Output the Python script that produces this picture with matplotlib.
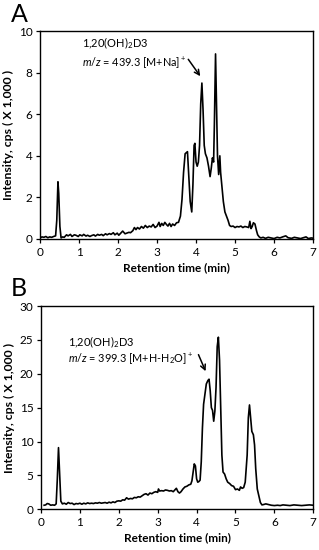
import matplotlib.pyplot as plt

plt.rcParams['font.family'] = ['Lato', 'DejaVu Sans']
plt.rcParams['mathtext.fontset'] = 'custom'
plt.rcParams['mathtext.rm'] = 'Lato'
plt.rcParams['mathtext.it'] = 'Lato:italic'

# panel A: m/z 439.3 trace (intensity in thousands of cps)
time_a = [0.00, 0.05, 0.10, 0.15, 0.20, 0.25, 0.30, 0.35, 0.40, 0.43, 0.46, 0.48, 0.51, 0.54,
          0.58, 0.62, 0.68, 0.72, 0.78, 0.82, 0.88, 0.92, 0.98, 1.02, 1.08, 1.12, 1.18, 1.22,
          1.28, 1.32, 1.38, 1.42, 1.48, 1.52, 1.58, 1.62, 1.68, 1.72, 1.78, 1.82, 1.88, 1.92,
          1.98, 2.02, 2.08, 2.12, 2.18, 2.22, 2.28, 2.32, 2.38, 2.42, 2.46, 2.50, 2.55, 2.60,
          2.65, 2.70, 2.75, 2.80, 2.85, 2.90, 2.95, 3.00, 3.05, 3.08, 3.12, 3.16, 3.20, 3.24,
          3.28, 3.32, 3.36, 3.40, 3.45, 3.50, 3.55, 3.60, 3.64, 3.68, 3.72, 3.75, 3.78, 3.81,
          3.85, 3.89, 3.92, 3.95, 3.97, 4.00, 4.03, 4.06, 4.09, 4.12, 4.15, 4.18, 4.21, 4.24,
          4.28, 4.32, 4.36, 4.39, 4.42, 4.45, 4.47, 4.50, 4.53, 4.55, 4.58, 4.61, 4.63, 4.66,
          4.70, 4.74, 4.78, 4.82, 4.86, 4.90, 4.95, 5.00, 5.05, 5.10, 5.15, 5.20, 5.25, 5.30,
          5.35, 5.38, 5.41, 5.44, 5.47, 5.51, 5.55, 5.58, 5.62, 5.66, 5.72, 5.78, 5.85, 5.92,
          6.00, 6.08, 6.15, 6.22, 6.30, 6.36, 6.45, 6.52, 6.60, 6.68, 6.75, 6.82, 6.88, 6.95,
          7.00]
int_a = [0.05, 0.10, 0.08, 0.12, 0.06, 0.10, 0.08, 0.12, 0.15, 0.90, 2.75, 2.20, 0.60, 0.05,
         0.10, 0.08, 0.20, 0.15, 0.22, 0.12, 0.20, 0.18, 0.12, 0.20, 0.15, 0.22, 0.14, 0.18,
         0.12, 0.16, 0.20, 0.14, 0.22, 0.18, 0.22, 0.16, 0.25, 0.20, 0.26, 0.22, 0.30, 0.20,
         0.28, 0.18, 0.30, 0.38, 0.25, 0.28, 0.32, 0.30, 0.40, 0.55, 0.45, 0.55, 0.48, 0.60,
         0.52, 0.65, 0.55, 0.62, 0.58, 0.70, 0.55, 0.62, 0.80, 0.60, 0.75, 0.65, 0.80, 0.70,
         0.62, 0.75, 0.60, 0.72, 0.65, 0.78, 0.80, 1.10, 1.90, 3.20, 4.10, 4.15, 4.20, 3.20,
         1.80, 1.30, 2.60, 4.50, 4.60, 3.70, 3.50, 3.70, 4.50, 6.50, 7.50, 6.20, 4.50, 4.10,
         3.90, 3.50, 3.00, 3.40, 3.90, 3.70, 5.50, 8.90, 6.00, 4.00, 3.10, 4.00, 3.20, 2.60,
         1.80, 1.30, 1.10, 0.90, 0.65, 0.60, 0.62, 0.55, 0.60, 0.58, 0.62, 0.55, 0.60, 0.58,
         0.55, 0.85, 0.50, 0.60, 0.78, 0.72, 0.40, 0.20, 0.10, 0.05, 0.08, 0.03, 0.08, 0.05,
         0.02, 0.08, 0.05, 0.10, 0.15, 0.06, 0.03, 0.08, 0.05, 0.02, 0.06, 0.10, 0.02, 0.05,
         0.04]

# panel B: m/z 399.3 trace
time_b = [0.08, 0.12, 0.16, 0.20, 0.25, 0.30, 0.35, 0.39, 0.42, 0.45, 0.48, 0.51, 0.55, 0.60,
          0.65, 0.70, 0.75, 0.80, 0.85, 0.90, 0.95, 1.00, 1.05, 1.10, 1.15, 1.20, 1.25, 1.30,
          1.35, 1.40, 1.45, 1.50, 1.55, 1.60, 1.65, 1.70, 1.75, 1.80, 1.85, 1.90, 1.95, 2.00,
          2.05, 2.10, 2.15, 2.20, 2.25, 2.30, 2.35, 2.40, 2.45, 2.50, 2.55, 2.60, 2.65, 2.70,
          2.75, 2.80, 2.85, 2.90, 2.95, 3.00, 3.02, 3.05, 3.10, 3.15, 3.20, 3.25, 3.30, 3.35,
          3.40, 3.45, 3.48, 3.52, 3.56, 3.60, 3.65, 3.70, 3.75, 3.80, 3.85, 3.88, 3.91, 3.94,
          3.97, 4.00, 4.03, 4.06, 4.09, 4.12, 4.15, 4.18, 4.21, 4.25, 4.29, 4.32, 4.35, 4.38,
          4.41, 4.44, 4.47, 4.50, 4.53, 4.56, 4.59, 4.62, 4.65, 4.68, 4.72, 4.76, 4.80, 4.85,
          4.90, 4.95, 5.00, 5.05, 5.10, 5.13, 5.17, 5.21, 5.25, 5.30, 5.33, 5.36, 5.39, 5.42,
          5.46, 5.49, 5.52, 5.56, 5.60, 5.64, 5.68, 5.72, 5.78, 5.85, 5.92, 6.00, 6.08, 6.15,
          6.22, 6.30, 6.40, 6.50, 6.60, 6.70, 6.80, 6.90, 7.00]
int_b = [0.60, 0.65, 0.85, 0.80, 0.60, 0.65, 0.60, 0.80, 4.50, 9.10, 5.00, 1.20, 0.80, 0.90,
         0.75, 1.00, 0.85, 0.90, 0.70, 0.85, 0.80, 0.90, 0.75, 0.90, 0.80, 0.95, 0.85, 0.90,
         0.85, 0.95, 0.90, 1.00, 0.90, 0.95, 1.00, 0.90, 1.05, 0.95, 1.10, 1.00, 1.20, 1.25,
         1.20, 1.40, 1.35, 1.70, 1.50, 1.60, 1.55, 1.75, 1.70, 1.85, 1.80, 2.00, 2.20, 2.30,
         2.10, 2.40, 2.30, 2.50, 2.60, 2.50, 3.00, 2.70, 2.75, 2.70, 2.85, 2.80, 2.70, 2.75,
         2.60, 2.90, 3.10, 2.60, 2.40, 2.60, 3.00, 3.30, 3.40, 3.60, 3.70, 4.20, 5.50, 6.70,
         6.40, 4.50, 4.00, 4.10, 4.30, 7.00, 12.00, 15.50, 16.80, 18.50, 19.00, 19.20, 17.50, 15.00,
         14.60, 13.00, 14.50, 18.00, 24.00, 25.40, 22.00, 15.00, 8.00, 5.50, 5.20, 4.50, 4.00, 3.80,
         3.50, 3.40, 2.90, 3.00, 2.80, 3.30, 3.10, 3.20, 4.00, 8.00, 13.50, 15.40, 13.50, 11.50,
         11.00, 9.50, 6.00, 3.00, 2.00, 1.00, 0.65, 0.70, 0.80, 0.70, 0.60, 0.55, 0.60, 0.55,
         0.65, 0.60, 0.55, 0.65, 0.60, 0.55, 0.60, 0.65, 0.60]

x_ticks = [0, 1, 2, 3, 4, 5, 6, 7]
y_ticks_a = [0, 2, 4, 6, 8, 10]
y_ticks_b = [0, 5, 10, 15, 20, 25, 30]


def style_axis(ax, yticks):
    ax.set_xlim(0, 7)
    ax.set_ylim(yticks[0], yticks[-1])
    ax.set_xticks(x_ticks)
    ax.set_yticks(yticks)
    ax.tick_params(direction='out', length=3, width=0.9, labelsize=8.5, pad=2.5)
    for s in ax.spines.values():
        s.set_linewidth(1.0)
    ax.set_xlabel('Retention time (min)', fontsize=8.5, fontweight='bold', labelpad=3)
    ax.set_ylabel('Intensity, cps ( X 1,000 )', fontsize=8.8, fontweight='bold', labelpad=3)


fig = plt.figure(figsize=(3.19, 5.5), dpi=100)

ax1 = fig.add_axes([0.1254, 0.5655, 0.856, 0.378])
ax1.plot(time_a, int_a, color='black', lw=1.2)
style_axis(ax1, y_ticks_a)
ax1.text(1.07, 9.4, '1,20(OH)$_2$D3', fontsize=8, va='center')
ax1.text(1.07, 8.5, '$m/z$ = 439.3 [M+Na]$^+$', fontsize=7.8, va='center')
ax1.annotate('', xy=(4.15, 7.72), xytext=(3.76, 8.75),
             arrowprops=dict(arrowstyle='->', color='black', lw=1.1, mutation_scale=9))

ax2 = fig.add_axes([0.1285, 0.074, 0.8536, 0.3696])
ax2.plot(time_b, int_b, color='black', lw=1.2)
style_axis(ax2, y_ticks_b)
ax2.text(0.69, 24.6, '1,20(OH)$_2$D3', fontsize=8, va='center')
ax2.text(0.69, 22.2, '$m/z$ = 399.3 [M+H-H$_2$O]$^+$', fontsize=7.8, va='center')
ax2.annotate('', xy=(4.26, 20.0), xytext=(4.02, 23.2),
             arrowprops=dict(arrowstyle='->', color='black', lw=1.1, mutation_scale=9))

fig.text(0.035, 0.995, 'A', fontsize=18, va='top')
fig.text(0.035, 0.497, 'B', fontsize=18, va='top')

fig.savefig('out.png', dpi=100)
